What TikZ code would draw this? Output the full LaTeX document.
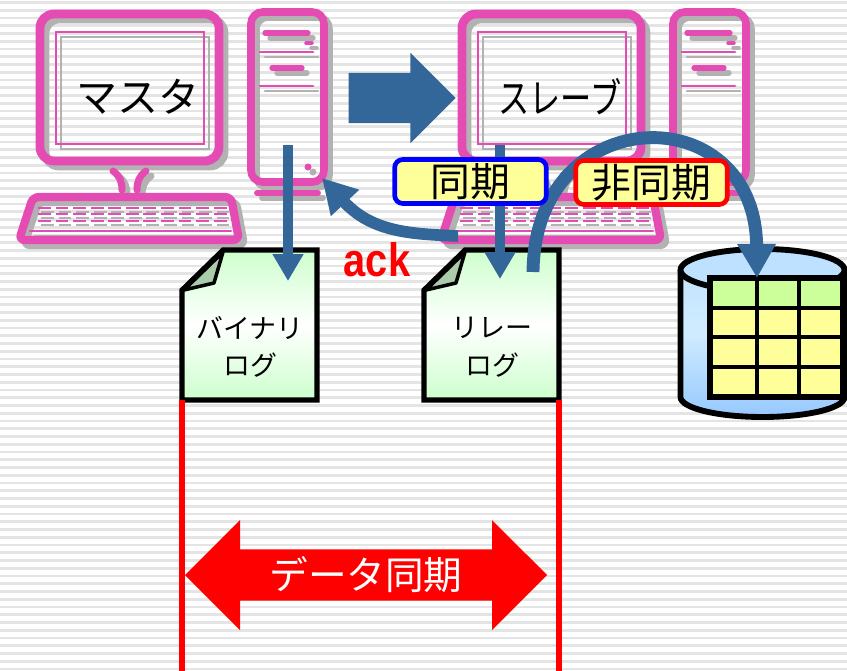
\documentclass[tikz,border=0pt]{standalone}
\usepackage{fontspec}
\usetikzlibrary{arrows.meta,shapes.arrows,calc}

\newfontfamily\jpfont{Noto Sans CJK JP}
\newfontfamily\jpnarrow[FakeStretch=0.76]{Noto Sans CJK JP}
\newfontfamily\ackfont[FakeStretch=0.85]{Liberation Sans}

\definecolor{pcpink}{RGB}{228,76,180}
\definecolor{pcshadow}{RGB}{178,178,178}
\definecolor{flowblue}{RGB}{51,102,153}
\definecolor{stripe}{RGB}{228,228,228}
\definecolor{loggreen}{RGB}{204,255,204}
\definecolor{foldgreen}{RGB}{170,204,170}
\definecolor{tagyellow}{RGB}{255,255,153}
\definecolor{rowgreen}{RGB}{204,255,153}
\definecolor{dbtop}{RGB}{190,225,255}
\definecolor{dbmid}{RGB}{208,236,255}
\definecolor{dbbottom}{RGB}{150,200,255}

\tikzset{
  % monitor + keyboard + tower, grey copy first then pink on top
  computer/.pic={
    \foreach \dd/\col in {5/pcshadow,0/pcpink}{
      \begin{scope}[shift={(\dd,\dd)}, color=\col, line cap=round]
        \draw[line width=7.5pt, rounded corners=12] (40,14) rectangle (219,161);
        \draw[line width=2.5pt] (56,32) rectangle (204,144);
        \draw[line width=6pt] (113,171) .. controls (120,176) and (122,182) .. (122,190);
        \draw[line width=6pt] (146,171) .. controls (139,176) and (137,182) .. (137,190);
        \draw[line width=7pt, rounded corners=5] (33,197) -- (231,197) -- (239,240) -- (19,240) -- cycle;
        \draw[line width=2.5pt] (30,231) -- (231,231);
        \draw[line width=6.5pt, rounded corners=10] (251,12) rectangle (324,182);
        \draw[line width=4.5pt] (265,33) -- (308,33);
        \draw[line width=3pt] (306,43) -- (312,43);
        \draw[line width=2.5pt] (260,52) -- (313,52);
        \draw[line width=4.5pt] (272,68) -- (302,68);
        \draw[line width=2.5pt] (260,86) -- (313,86);
        \fill (308,167) circle (3.5);
        \draw[line width=5pt] (257,193) -- (318,193);
      \end{scope}
    }
    % key rows
    \foreach \ky in {208,214,221}
      \draw[pcshadow, line width=2.5pt, dash pattern=on 11pt off 4pt] (41,\ky+4) -- (229,\ky+4);
    \foreach \ky in {208,214,221}
      \draw[pcpink, line width=2.5pt, dash pattern=on 11pt off 4pt] (38,\ky) -- (228,\ky);
    \coordinate (-screen) at (138,97);
  },
  % page with a folded corner
  logfile/.pic={
    \draw[line width=4.3pt, line join=miter, top color=loggreen, bottom color=loggreen, middle color=white]
      (0,40) -- (41,0) -- (135,0) -- (135,150) -- (0,150) -- cycle;
    \filldraw[fill=foldgreen, line width=3pt, line join=round] (41,2) -- (2,40) -- (32,33) -- cycle;
    \node[logtext] (-body) at (68,97) {\tikzpictext};
    \coordinate (-sw) at (0,150);
    \coordinate (-se) at (135,150);
  },
}

\begin{document}
\begin{tikzpicture}[x=0.3mm, y=-0.3mm,
    flow/.style={draw=flowblue, line width=8.5pt, -{Triangle[width=25pt,length=23pt]}},
    bigflow/.style={draw=flowblue, line width=11pt, -{Triangle[width=31pt,length=29pt]}},
    screenlabel/.style={inner sep=0, font=\jpfont\fontsize{35}{40}\selectfont},
    logtext/.style={inner sep=0, align=center, font=\jpfont\fontsize{23}{32}\selectfont},
    tag/.style={rectangle, rounded corners=7, fill=tagyellow, line width=4pt, inner sep=0,
      minimum width=45.5mm, minimum height=13.2mm, font=\jpfont\fontsize{34}{36}\selectfont},
    guide/.style={draw=red, line width=5pt},
    dbgrid/.style={draw=black, line width=5pt, fill=tagyellow, inner sep=0, outer sep=0,
      minimum width=39.9mm, minimum height=35.7mm,
      path picture={
        \fill[rowgreen] (path picture bounding box.north west) rectangle ([yshift=-9mm]path picture bounding box.north east);
        \foreach \gy in {30,59,89}
          \draw[line width=3.5pt] ([yshift=-\gy*0.3mm]path picture bounding box.north west) -- ++(133,0);
        \foreach \gx in {47,89}
          \draw[line width=3.5pt] ([xshift=\gx*0.3mm]path picture bounding box.north west) -- ++(0,119);
      }}]

  \useasboundingbox (0,0) rectangle (847,671);
  \clip (0,0) rectangle (847,671);

  % striped background
  \fill[white] (0,0) rectangle (847,671);
  \foreach \k in {0,...,86}
    \fill[stripe] (0,\k*7.75+1.2) rectangle (847,\k*7.75+3.8);

  % the two machines
  \pic (master) at (0,0) {computer};
  \pic (slave) at (422,0) {computer};
  \node[screenlabel] (mastername) at (master-screen) {マスタ};
  \node[screenlabel, font=\jpnarrow\fontsize{35}{40}\selectfont] (slavename) at (slave-screen) {スレーブ};

  \node[single arrow, fill=flowblue, inner xsep=0, inner ysep=7.5mm, minimum height=32.1mm, minimum width=27mm,
    single arrow head extend=6mm] (copyarrow) at (389.5,98) {};

  % log files
  \pic[pic text={バイナリ\\ログ}] (binlog) at (182,250) {logfile};
  \pic[pic text={リレー\\ログ}] (relaylog) at (424,250) {logfile};

  % database
  \fill[top color=dbtop, bottom color=dbbottom, middle color=dbmid]
    (680.5,270) -- (680.5,397) arc[start angle=180, end angle=0, x radius=82, y radius=20]
    -- (844.5,270) arc[start angle=0, end angle=-180, x radius=82, y radius=21] -- cycle;
  \draw[line width=5pt]
    (680.5,270) -- (680.5,397) arc[start angle=180, end angle=0, x radius=82, y radius=20]
    -- (844.5,270);
  \draw[line width=5pt, fill=dbtop] (762.5,270) ellipse [x radius=82, y radius=21];
  \node[dbgrid] (dbtable) at (776.5,337.5) {};

  % guide lines under the logs
  \coordinate (binfoot) at (binlog-sw |- 0,675);
  \coordinate (relayfoot) at (relaylog-se |- 0,675);
  \draw[guide] (binlog-sw) -- (binfoot);
  \draw[guide] (relaylog-se) -- (relayfoot);

  % replication flows
  \coordinate (masterport) at (288,145);
  \coordinate (binin) at (288,281);
  \coordinate (slaveport) at (500,145);
  \coordinate (relayin) at (500,279);
  \coordinate (ackstart) at (458,236);
  \coordinate (ackend) at (322,178);
  \coordinate (relayout) at (533,272);
  \coordinate (dbin) at (757,278);
  \draw[flow] (masterport) -- (binin);
  \draw[flow] (slaveport) -- (relayin);
  \draw[bigflow, line width=10pt] (ackstart) .. controls (410,234) and (372,232) .. (ackend);
  \draw[bigflow] (relayout) .. controls (535,100) and (755,95) .. (dbin);

  \node[tag, draw=blue] (synctag) at (470.5,181.5) {同期};
  \node[tag, draw=red] (asynctag) at (651.5,182.5) {非同期};
  \node[inner sep=0, text=red, font=\ackfont\bfseries\fontsize{40}{40}\selectfont] (ack) at (377,260) {ack};

  \node[double arrow, fill=red, text=white, inner sep=0, minimum height=108.6mm, minimum width=33mm,
    double arrow head extend=6.3mm, font=\jpfont\fontsize{33}{36}\selectfont] (datasync) at (366,575) {データ同期};
\end{tikzpicture}
\end{document}
